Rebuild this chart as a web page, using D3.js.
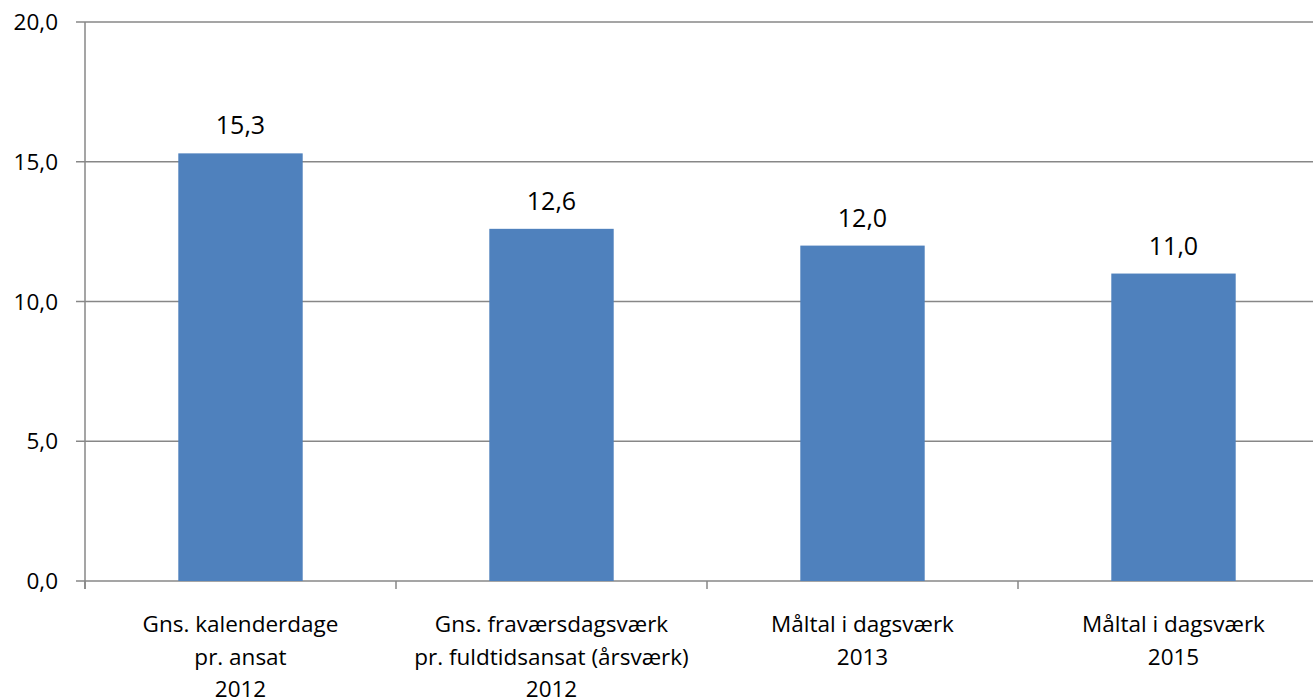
<!DOCTYPE html>
<html>
<head>
<meta charset="utf-8">
<script src="https://cdn.jsdelivr.net/npm/d3@7"></script>
<style>
  body { margin: 0; background: #fff; }
  text { font-family: "Open Sans", "Noto Sans", sans-serif; fill: #000; }
</style>
</head>
<body>
<div id="chart"></div>
<script>
// chart data
var categories = [
    ["Gns. kalenderdage", "pr. ansat", "2012"],
    ["Gns. fraværsdagsværk", "pr. fuldtidsansat (årsværk)", "2012"],
    ["Måltal i dagsværk", "2013"],
    ["Måltal i dagsværk", "2015"]
];
var values = [15.3, 12.6, 12.0, 11.0];
var yTicks = [0, 5, 10, 15, 20];

(function () {
    var width = 1313;
    var height = 700;
    var left = 85, top = 22, bottom = 581;
    var step = 311;
    var fontSize = 22.5;
    var fmt = function (v) { return d3.format(".1f")(v).replace(".", ","); };

    var svg = d3.select("#chart").append("svg")
        .attr("width", width).attr("height", height);

    var x = d3.scaleBand()
        .domain(d3.range(categories.length))
        .range([left, left + step * categories.length])
        .paddingInner(0.6)
        .paddingOuter(0.3);

    var y = d3.scaleLinear().domain([0, 20]).range([bottom, top]);

    // gridlines + y labels
    svg.selectAll(".grid").data(yTicks).enter().append("line")
        .attr("x1", left - 9).attr("x2", width)
        .attr("y1", function (d) { return y(d); })
        .attr("y2", function (d) { return y(d); })
        .attr("stroke", "#878787").attr("stroke-width", 1.5);

    svg.selectAll(".ylab").data(yTicks).enter().append("text")
        .attr("x", 58).attr("y", function (d) { return y(d); })
        .attr("dy", "0.36em")
        .attr("text-anchor", "end")
        .style("font-size", fontSize + "px")
        .text(fmt);

    // bars
    svg.selectAll(".bar").data(values).enter().append("rect")
        .attr("x", function (d, i) { return x(i); })
        .attr("width", x.bandwidth())
        .attr("y", function (d) { return y(d); })
        .attr("height", function (d) { return y(0) - y(d); })
        .attr("fill", "#4F81BD");

    // axis lines
    svg.append("line")
        .attr("x1", left).attr("x2", left)
        .attr("y1", top).attr("y2", bottom + 8)
        .attr("stroke", "#878787").attr("stroke-width", 1.5);

    svg.selectAll(".xtick").data(d3.range(categories.length + 1)).enter().append("line")
        .attr("x1", function (d) { return left + d * step; })
        .attr("x2", function (d) { return left + d * step; })
        .attr("y1", bottom).attr("y2", bottom + 8)
        .attr("stroke", "#878787").attr("stroke-width", 1.5);

    // value labels
    svg.selectAll(".val").data(values).enter().append("text")
        .attr("x", function (d, i) { return x(i) + x.bandwidth() / 2; })
        .attr("y", function (d) { return y(d) - 19; })
        .attr("text-anchor", "middle")
        .style("font-size", "25px")
        .text(fmt);

    // category labels
    var cat = svg.selectAll(".cat").data(categories).enter().append("text")
        .attr("text-anchor", "middle")
        .style("font-size", fontSize + "px");
    cat.selectAll("tspan").data(function (d, i) {
        return d.map(function (s) { return { s: s, i: i }; });
    }).enter().append("tspan")
        .attr("x", function (d) { return x(d.i) + x.bandwidth() / 2; })
        .attr("y", function (d, j) { return 632 + j * 32.5; })
        .text(function (d) { return d.s; });
})();
</script>
</body>
</html>
